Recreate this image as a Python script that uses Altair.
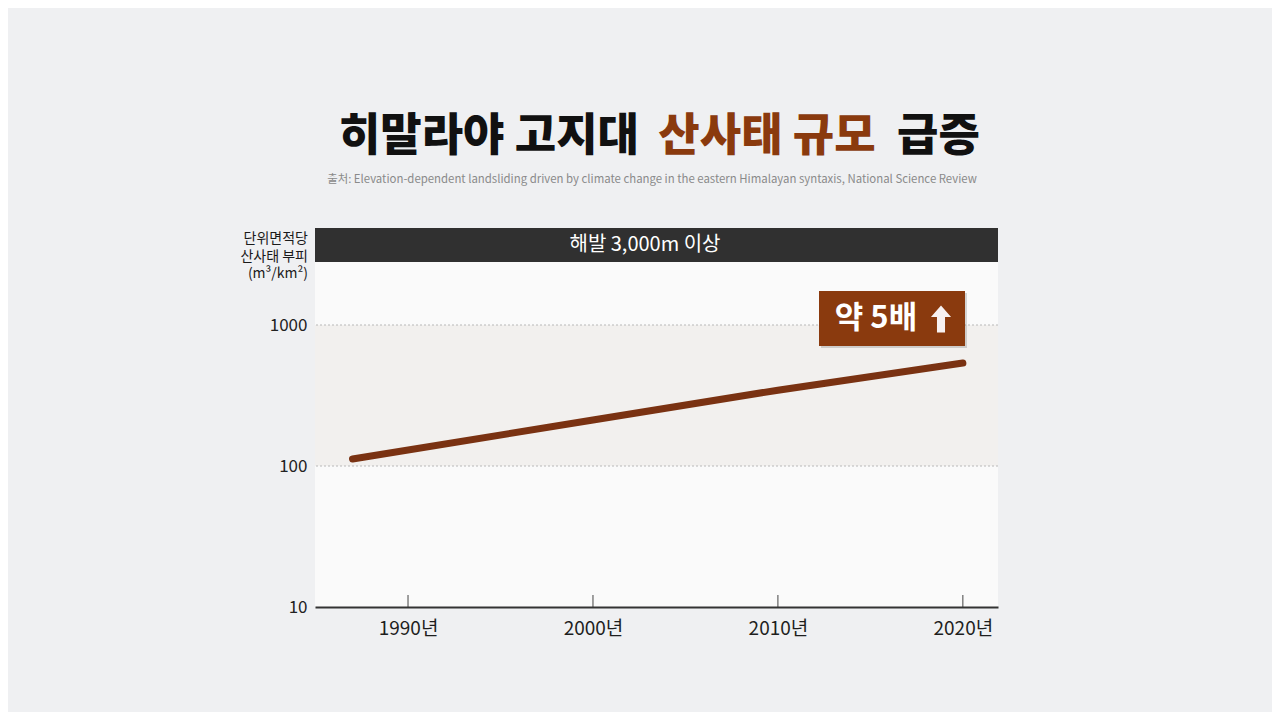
import altair as alt
import pandas as pd

# ---- data ----
years = [1987, 2000, 2010, 2020]
volume = [112, 212, 345, 537]
tick_years = [1990, 2000, 2010, 2020]
y_ticks = [10, 100, 1000]
grid_values = [100, 1000]
band_low, band_high = 100, 1000

title_black_1 = "히말라야 고지대"
title_brown = "산사태 규모"
title_black_2 = "급증"
subtitle = "출처: Elevation-dependent landsliding driven by climate change in the eastern Himalayan syntaxis, National Science Review"
ylabel_lines = ["단위면적당", "산사태 부피", "(m³/km²)"]
header_text = "해발 3,000m 이상"
badge_text = "약 5배"

FONT = "Noto Sans CJK KR"
BROWN = "#8a3a0e"
LINE = "#7a3212"

W, H = 683, 379
XDOM = [1984.97, 2021.9]
YDOM = [10, 4875]

xs = alt.Scale(domain=XDOM, nice=False, zero=False)
ys = alt.Scale(type="log", domain=YDOM, nice=False)

x_axis = alt.Axis(values=tick_years, format="d", labelExpr="datum.value + '년'",
                  title=None, grid=False, ticks=False, domain=True,
                  domainColor="#333333", domainWidth=2,
                  labelFont=FONT, labelFontSize=19, labelColor="#1e1e1e",
                  labelPadding=12, zindex=1)
y_axis = alt.Axis(values=y_ticks, format="d", title=None, ticks=False, domain=False,
                  grid=False,
                  labelFont=FONT, labelFontSize=17, labelColor="#222222",
                  labelPadding=8)

one = pd.DataFrame({"k": [0]})
line_df = pd.DataFrame({"year": years, "volume": volume})
tick_df = pd.DataFrame({"year": tick_years})
band_df = pd.DataFrame({"lo": [band_low], "hi": [band_high]})
grid_df = pd.DataFrame({"g": grid_values})

band = alt.Chart(band_df).mark_rect(color="#f2f0ee").encode(
    x=alt.value(0), x2=alt.value(W),
    y=alt.Y("lo:Q", scale=ys, axis=y_axis), y2="hi:Q",
)

grid = alt.Chart(grid_df).mark_rule(color="#b8b8b8", strokeDash=[2, 2], strokeWidth=1).encode(
    y=alt.Y("g:Q", scale=ys, axis=y_axis),
)

line = alt.Chart(line_df).mark_line(color=LINE, strokeWidth=7, strokeCap="round").encode(
    x=alt.X("year:Q", scale=xs, axis=x_axis),
    y=alt.Y("volume:Q", scale=ys, axis=y_axis),
)

ticks = alt.Chart(tick_df).mark_rule(color="#444444", strokeWidth=1).encode(
    x=alt.X("year:Q", scale=xs, axis=x_axis), y=alt.value(H - 12), y2=alt.value(H),
)

header = alt.Chart(one).mark_rect(color="#303030").encode(
    x=alt.value(0), x2=alt.value(W), y=alt.value(0), y2=alt.value(34),
)
header_t = alt.Chart(one).mark_text(text=header_text, font=FONT, fontSize=20, color="white",
                                    baseline="middle", align="center").encode(
    x=alt.value(330), y=alt.value(17),
)

badge_shadow = alt.Chart(one).mark_rect(color="#000000", opacity=0.15).encode(
    x=alt.value(506), x2=alt.value(652), y=alt.value(65), y2=alt.value(120),
)
badge = alt.Chart(one).mark_rect(color=BROWN).encode(
    x=alt.value(504), x2=alt.value(650), y=alt.value(63), y2=alt.value(118),
)
badge_t = alt.Chart(one).mark_text(text=badge_text, font=FONT, fontSize=31, fontWeight="bold",
                                   color="white", baseline="middle", align="center").encode(
    x=alt.value(561), y=alt.value(91),
)
arrow = alt.Chart(one).mark_point(
    shape="M0,-1 L0.75,-0.15 L0.3,-0.15 L0.3,1 L-0.3,1 L-0.3,-0.15 L-0.75,-0.15 Z",
    filled=True, color="#f7f1f1", opacity=1, size=720, strokeWidth=0,
).encode(x=alt.value(626), y=alt.value(91))

t1 = alt.Chart(one).mark_text(text=title_black_1, font=FONT, fontSize=45, fontWeight=900,
                              color="#111111", baseline="middle", align="right").encode(
    x=alt.value(324), y=alt.value(-91))
t2 = alt.Chart(one).mark_text(text=title_brown, font=FONT, fontSize=45, fontWeight=900,
                              color=BROWN, baseline="middle", align="center").encode(
    x=alt.value(452), y=alt.value(-91))
t3 = alt.Chart(one).mark_text(text=title_black_2, font=FONT, fontSize=45, fontWeight=900,
                              color="#111111", baseline="middle", align="left").encode(
    x=alt.value(582), y=alt.value(-91))
sub = alt.Chart(one).mark_text(text=subtitle, font=FONT, fontSize=11.4, color="#8a8a8a",
                               baseline="middle", align="center").encode(
    x=alt.value(337), y=alt.value(-48))

ylab_layers = [
    alt.Chart(one).mark_text(text=txt, font=FONT, fontSize=14, color="#1a1a1a",
                             baseline="middle", align="right").encode(
        x=alt.value(-7), y=alt.value(yy))
    for txt, yy in zip(ylabel_lines, [11, 28.5, 46])
]

chart = alt.layer(
    band, grid, header, header_t, line, ticks, badge_shadow, badge, badge_t, arrow,
    t1, t2, t3, sub, *ylab_layers,
).properties(
    width=W, height=H,
    padding={"left": 307, "top": 220, "right": 274, "bottom": 105},
    autosize=alt.AutoSizeParams(type="none"),
    background="#eff0f2",
).configure_view(stroke=None, fill="#fafafa")

chart.save("out.html", embed_options={"renderer": "svg", "actions": False})
